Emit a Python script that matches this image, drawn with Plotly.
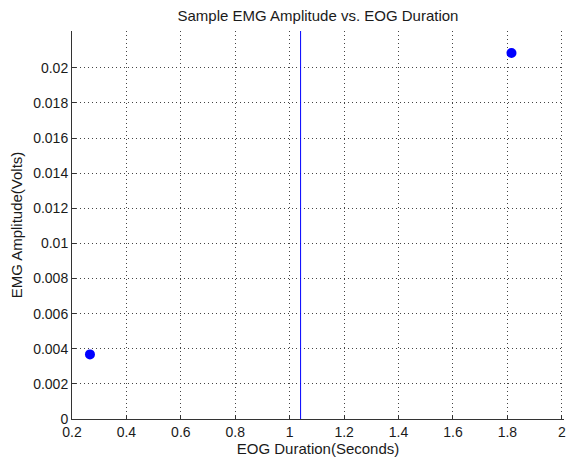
import plotly.graph_objects as go

# Data
eog_duration = [0.266, 1.815]          # seconds
emg_amplitude = [0.00368, 0.02085]     # volts
threshold_duration = [1.04]            # vertical marker line (seconds)

x_ticks = [0.2, 0.4, 0.6, 0.8, 1.0, 1.2, 1.4, 1.6, 1.8, 2.0]
x_tick_labels = ["0.2", "0.4", "0.6", "0.8", "1", "1.2", "1.4", "1.6", "1.8", "2"]
y_ticks = [0, 0.002, 0.004, 0.006, 0.008, 0.01, 0.012, 0.014, 0.016, 0.018, 0.02]
y_tick_labels = ["0", "0.002", "0.004", "0.006", "0.008", "0.01", "0.012", "0.014", "0.016", "0.018", "0.02"]

x_range = [0.2, 2.008]
y_range = [0, 0.0221]

fig = go.Figure()
fig.add_trace(go.Scatter(
    x=eog_duration, y=emg_amplitude, mode="markers",
    marker=dict(color="#0000ff", size=10, line=dict(width=0)),
    showlegend=False,
))
for t in threshold_duration:
    fig.add_trace(go.Scatter(
        x=[t, t], y=y_range, mode="lines",
        line=dict(color="#0000ff", width=1), showlegend=False,
    ))

FAMILY = "Liberation Sans, Arial, sans-serif"
tickfont = dict(family=FAMILY, size=14, color="#1a1a1a")
labelfont = dict(family=FAMILY, size=15, color="#1a1a1a")

axis_common = dict(
    showgrid=True, gridcolor="#444444", griddash="1px,3px", gridwidth=1,
    showline=True, linecolor="#333333", linewidth=1,
    ticks="inside", ticklen=4, tickcolor="#333333",
    zeroline=False, mirror=False, automargin=False,
    tickfont=tickfont, ticklabeloverflow="allow",
)

W, H = 567, 462
fig.update_layout(
    width=W, height=H,
    margin=dict(l=72, r=3, t=31, b=43, autoexpand=False),
    paper_bgcolor="white", plot_bgcolor="white",
    font=tickfont,
    title=dict(text="Sample EMG Amplitude vs. EOG Duration", x=0.5,
               xanchor="center", xref="paper", y=1 - 16 / H, yanchor="middle",
               font=labelfont),
    xaxis=dict(range=x_range, tickvals=x_ticks, ticktext=x_tick_labels,
               title=dict(text="EOG Duration(Seconds)", standoff=0, font=labelfont),
               **axis_common),
    yaxis=dict(range=y_range, tickvals=y_ticks, ticktext=y_tick_labels,
               title=dict(text="EMG Amplitude(Volts)", standoff=6, font=labelfont),
               **axis_common),
)

# Remove the default page margin so the figure fills the window exactly.
fig.write_html(
    "out.html",
    config={"displayModeBar": False},
    post_script="document.body.style.margin='0';document.body.style.overflow='hidden';",
)
